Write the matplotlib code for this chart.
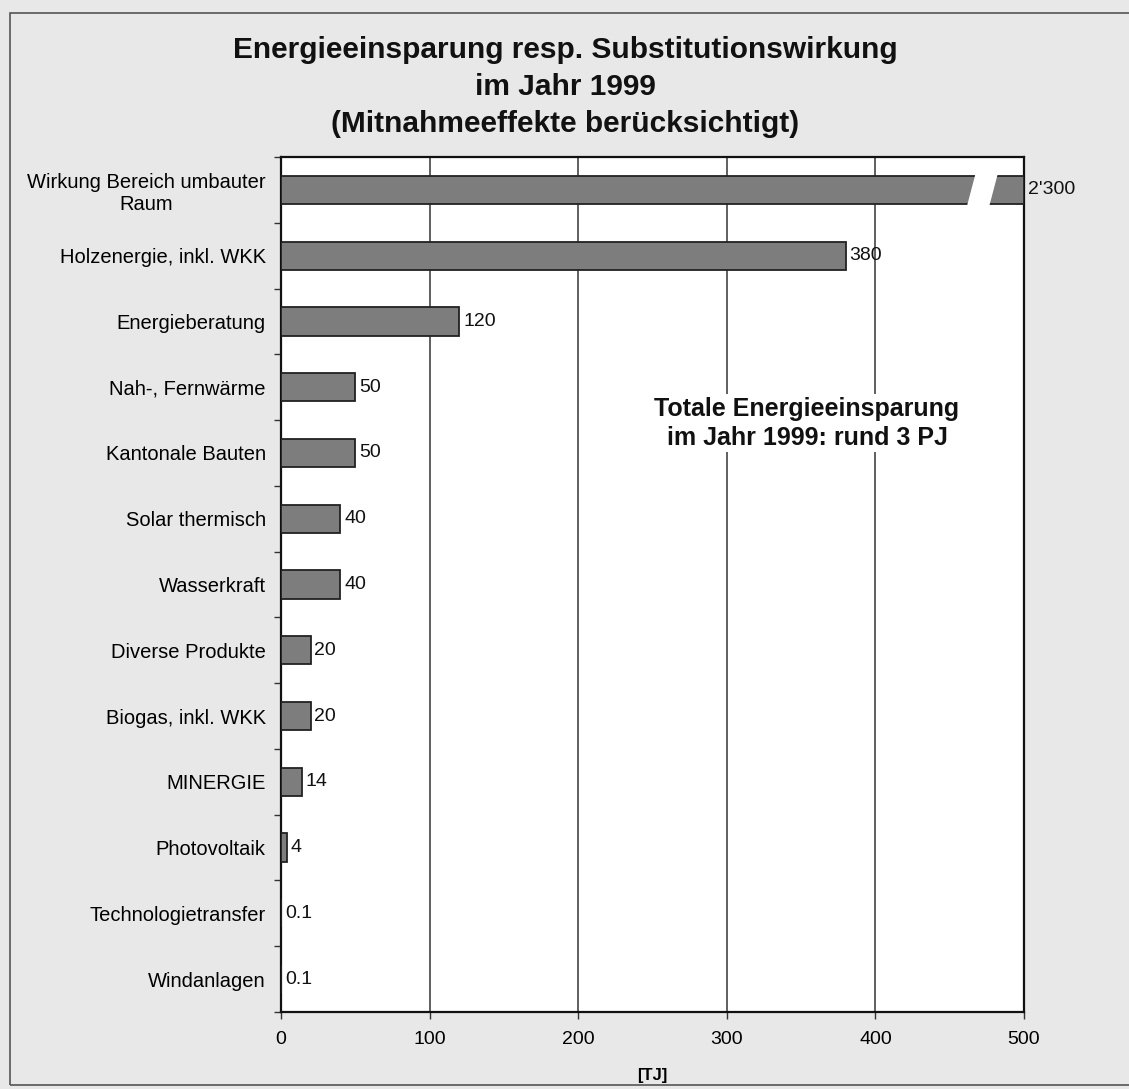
import numpy as np
import matplotlib
matplotlib.use("Agg")
import matplotlib.pyplot as plt
from matplotlib.patches import Polygon, Rectangle

plt.rcParams['font.family'] = ['Liberation Sans', 'DejaVu Sans']

# data
categories = ['Wirkung Bereich umbauter\nRaum', 'Holzenergie, inkl. WKK', 'Energieberatung',
              'Nah-, Fernwärme', 'Kantonale Bauten', 'Solar thermisch', 'Wasserkraft',
              'Diverse Produkte', 'Biogas, inkl. WKK', 'MINERGIE', 'Photovoltaik',
              'Technologietransfer', 'Windanlagen']
values = [2300, 380, 120, 50, 50, 40, 40, 20, 20, 14, 4, 0.1, 0.1]
value_labels = ["2'300", '380', '120', '50', '50', '40', '40', '20', '20', '14', '4', '0.1', '0.1']
xticks = [0, 100, 200, 300, 400, 500]

XMAX = 500

fig = plt.figure(figsize=(11.29, 10.89), dpi=100, facecolor='#e8e8e8')
ax = fig.add_axes([281 / 1129, 1 - 1012 / 1089, (1024 - 281) / 1129, (1012 - 157) / 1089])
ax.set_facecolor('white')

# outer frame
fig.patches.append(Rectangle((10 / 1129, 4 / 1089), 1.2, 1072 / 1089, transform=fig.transFigure,
                             fill=False, edgecolor='#555555', linewidth=1.2))

y = np.arange(len(categories))
shown = [min(v, XMAX) for v in values]
ax.barh(y, shown, height=0.43, color='#7d7d7d', edgecolor='#222222', linewidth=1.3, zorder=3)

# broken bar gap for the first (off-scale) value
gap = Polygon([(461, 0.30), (476, 0.30), (483, -0.30), (468, -0.30)], closed=True,
              facecolor='white', edgecolor='none', zorder=4)
ax.add_patch(gap)

for yi, v, lab in zip(y, shown, value_labels):
    ax.text(v + 2.5, yi, lab, va='center', ha='left', fontsize=14, color='#111111',
            clip_on=False, zorder=5)

ax.set_xlim(0, XMAX)
ax.set_ylim(len(categories) - 0.5, -0.5)

ax.set_xticks(xticks)
ax.set_xticklabels([str(t) for t in xticks], fontsize=14)
ax.set_yticks(y)
ax.set_yticklabels(categories, fontsize=14.5, multialignment='center')
ax.set_yticks(np.arange(len(categories) + 1) - 0.5, minor=True)
ax.tick_params(axis='y', which='major', length=0, pad=11)
ax.tick_params(axis='y', which='minor', length=5, width=1, direction='out', color='#333333')
ax.tick_params(axis='x', length=5, width=1, pad=9, color='#333333')

ax.grid(axis='x', color='#444444', linewidth=1.2, zorder=1)
ax.set_axisbelow(True)
for s in ax.spines.values():
    s.set_linewidth(1.6)
    s.set_color('#111111')

ax.set_xlabel('[TJ]', fontsize=12, fontweight='bold', labelpad=14)

fig.text(565 / 1129, 1 - 87 / 1089,
         'Energieeinsparung resp. Substitutionswirkung\nim Jahr 1999\n(Mitnahmeeffekte berücksichtigt)',
         ha='center', va='center', fontsize=21.5, fontweight='bold', linespacing=1.42, color='#111111')

ax.text(354, 3.55, 'Totale Energieeinsparung\nim Jahr 1999: rund 3 PJ', ha='center', va='center',
        fontsize=18, fontweight='bold', linespacing=1.25, color='#111111', zorder=6,
        bbox=dict(facecolor='white', edgecolor='none', pad=2))

fig.savefig('out.png', dpi=100, facecolor=fig.get_facecolor())
